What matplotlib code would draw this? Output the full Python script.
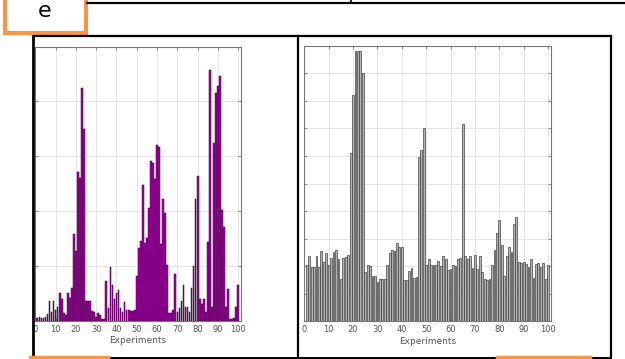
import matplotlib
matplotlib.use('Agg')
from matplotlib import pyplot as plt
from matplotlib.patches import Rectangle
import numpy as np

experiments = np.arange(1, 101)

left_vals = [0.05, 0.06, 0.04, 0.05, 0.07, 0.12, 0.35, 0.15, 0.35, 0.2,
             0.25, 0.5, 0.4, 0.13, 0.1, 0.5, 0.42, 0.6, 1.58, 1.27,
             2.72, 2.6, 4.25, 3.49, 0.35, 0.35, 0.35, 0.18, 0.15, 0.06,
             0.13, 0.1, 0.03, 0.03, 0.73, 0.23, 0.97, 0.65, 0.4, 0.5,
             0.55, 0.23, 0.15, 0.33, 0.2, 0.2, 0.17, 0.18, 0.2, 0.82,
             1.33, 1.45, 2.47, 1.41, 1.5, 2.06, 2.92, 2.88, 2.59, 3.21,
             3.16, 1.4, 2.22, 1.97, 1.02, 0.13, 0.14, 0.19, 0.85, 0.15,
             0.23, 0.36, 0.64, 0.24, 0.25, 0.16, 0.6, 1.0, 2.21, 2.64,
             0.39, 0.3, 0.39, 0.15, 1.44, 4.57, 0.24, 3.25, 4.15, 4.28,
             4.47, 2.01, 1.71, 0.24, 0.58, 0.03, 0.03, 0.05, 0.25, 0.64]

right_vals = [2.04, 2.36, 1.96, 1.96, 2.36, 1.96, 2.55, 2.16, 2.48, 2.02,
              2.28, 2.51, 2.57, 2.27, 1.52, 2.3, 2.34, 2.4, 6.12, 8.2,
              9.8, 9.8, 9.8, 9.0, 1.79, 2.04, 2.0, 1.64, 1.64, 1.43,
              1.54, 1.52, 1.52, 2.02, 2.47, 2.57, 2.55, 2.85, 2.69, 2.7,
              1.48, 1.48, 1.82, 1.94, 1.58, 1.6, 5.97, 6.2, 7.0, 2.04,
              2.24, 2.04, 2.04, 2.04, 2.2, 2.0, 2.35, 2.24, 1.84, 1.9,
              2.04, 2.0, 2.24, 2.3, 7.15, 2.35, 2.24, 2.36, 1.92, 2.4,
              1.88, 2.36, 1.79, 1.54, 1.49, 1.52, 2.04, 2.57, 3.21, 3.66,
              2.75, 1.64, 2.36, 2.7, 2.5, 3.54, 3.78, 2.16, 2.12, 2.16,
              2.06, 1.98, 2.24, 1.55, 2.06, 2.12, 1.96, 2.12, 1.52, 2.04]

x_ticks = [0, 10, 20, 30, 40, 50, 60, 70, 80, 90, 100]
x_label = 'Experiments'
panel_letter = 'e'

font = ['Liberation Sans Narrow', 'DejaVu Sans']


def style_axes(ax, ymax):
    ax.set_xlim(0, 101.2)
    ax.set_ylim(0, ymax)
    ax.set_xticks(x_ticks)
    ax.set_xticklabels([str(t) for t in x_ticks], fontsize=6, color='#555555', family=font)
    ax.set_yticks(np.arange(0, ymax + 1, 1))
    ax.set_yticklabels([])
    ax.tick_params(direction='in', length=2.5, width=0.5, color='#666666',
                   top=True, right=True, pad=3)
    ax.grid(True, color='#e2e2e2', linewidth=0.6)
    ax.set_axisbelow(True)
    for s in ax.spines.values():
        s.set_color('#777777')
        s.set_linewidth(0.8)
    ax.set_xlabel(x_label, fontsize=6.5, color='#555555', family=font, labelpad=2)


fig = plt.figure(figsize=(6.25, 3.59), dpi=100)

# left panel: magenta bars
ax1 = fig.add_axes([0.0565, 0.1072, 0.3286, 0.7627])
ax1.bar(experiments, left_vals, width=0.85, color='#a800a8', edgecolor='#300030', linewidth=0.35)
style_axes(ax1, 5)

# right panel: grey bars
ax2 = fig.add_axes([0.4869, 0.1058, 0.3947, 0.7661])
ax2.bar(experiments, right_vals, width=0.75, color='#b4b4b4', edgecolor='#333333', linewidth=0.45)
style_axes(ax2, 10)

# table borders and the panel letter box, in pixel coordinates
frame = fig.add_axes([0, 0, 1, 1], zorder=10)
frame.set_xlim(0, 625)
frame.set_ylim(359, 0)
frame.axis('off')
frame.patch.set_alpha(0)

frame.plot([87, 625], [2.7, 2.7], color='black', lw=1.6)
frame.plot([351, 351], [0, 2.7], color='black', lw=1.2)
frame.plot([33, 611], [36, 36], color='black', lw=1.6)
frame.plot([33, 33], [36, 358], color='black', lw=2)
frame.plot([298, 298], [36, 358], color='black', lw=1.6)
frame.plot([611, 611], [36, 358], color='black', lw=1.6)
frame.plot([108, 497], [357.5, 357.5], color='black', lw=1.4)
frame.plot([590, 611], [357.5, 357.5], color='black', lw=1.4)
frame.plot([30, 108], [357, 357], color='#f79646', lw=2.5)
frame.plot([497, 590], [357, 357], color='#f79646', lw=2.5)

frame.add_patch(Rectangle((4.5, -20), 81, 53, facecolor='white', edgecolor='#f79646', lw=3,
                          clip_on=False))
frame.text(45, 11, panel_letter, fontsize=16, ha='center', va='center', color='black')

fig.savefig('out.png', dpi=100)
